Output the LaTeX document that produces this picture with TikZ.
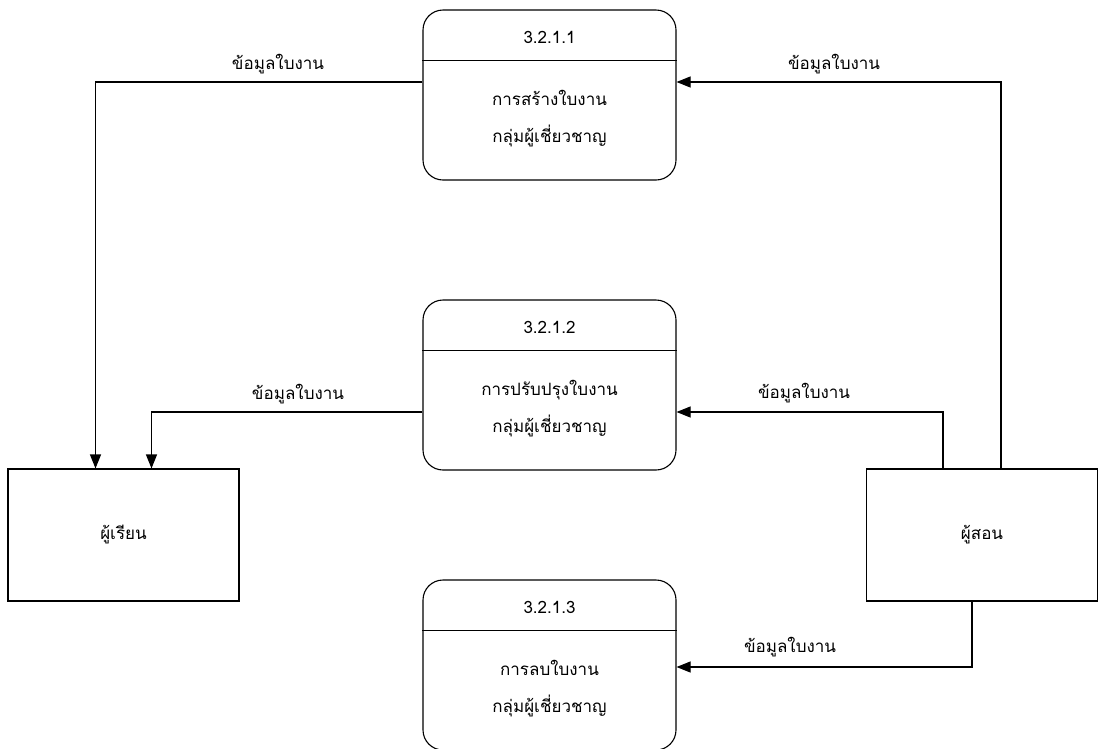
\documentclass[tikz,border=0pt]{standalone}
\usepackage{fontspec}
\newfontfamily\thaifont[Script=Thai]{Loma}
\usetikzlibrary{arrows.meta}
\begin{document}
\begin{tikzpicture}[x=1pt,y=-1pt,
  font=\thaifont\fontsize{17}{37}\selectfont,
  line width=1.1pt,
  proc/.style={draw, rounded corners=20pt, minimum width=253pt, minimum height=170pt, inner sep=0pt},
  ext/.style={draw, minimum width=231pt, minimum height=132pt, inner sep=0pt},
  flow/.style={-{Triangle[length=14pt,width=11pt]}},
  txt/.style={inner sep=0pt, align=center}]
\useasboundingbox (0,0) rectangle (1098,748);

% processes
\node[proc] (p1) at (549.5,95) {};
\node[proc] (p2) at (549.5,385) {};
\node[proc] (p3) at (549.5,665) {};
\foreach \p in {p1,p2,p3}
  \draw ([yshift=-51pt]\p.north west) -- ([yshift=-51pt]\p.north east);

\node[txt] (id1) at (549.5,37) {3.2.1.1};
\node[txt] (b1) at (549.5,119) {การสร้างใบงาน\\กลุ่มผู้เชี่ยวชาญ};
\node[txt] (id2) at (549.5,327) {3.2.1.2};
\node[txt] (b2) at (549.5,409) {การปรับปรุงใบงาน\\กลุ่มผู้เชี่ยวชาญ};
\node[txt] (id3) at (549.5,607) {3.2.1.3};
\node[txt] (b3) at (549.5,689) {การลบใบงาน\\กลุ่มผู้เชี่ยวชาญ};

% external entities
\node[ext] (e1) at (123.5,535) {ผู้เรียน};
\node[ext] (e2) at (982,535) {ผู้สอน};

% data flows
\draw[flow] ([yshift=13pt]p1.west) -| ([xshift=-28pt]e1.north);
\draw[flow] ([yshift=-27pt]p2.west) -| ([xshift=28pt]e1.north);
\draw[flow] ([xshift=19pt]e2.north) |- ([yshift=13pt]p1.east);
\draw[flow] ([xshift=-39pt]e2.north) |- ([yshift=-27pt]p2.east);
\draw[flow] ([xshift=-10pt]e2.south) |- ([yshift=-2pt]p3.east);

% flow labels
\node[txt] (l1) at (278,64) {ข้อมูลใบงาน};
\node[txt] (l2) at (834,64) {ข้อมูลใบงาน};
\node[txt] (l3) at (298,394) {ข้อมูลใบงาน};
\node[txt] (l4) at (804,393) {ข้อมูลใบงาน};
\node[txt] (l5) at (790,647) {ข้อมูลใบงาน};
\end{tikzpicture}
\end{document}
